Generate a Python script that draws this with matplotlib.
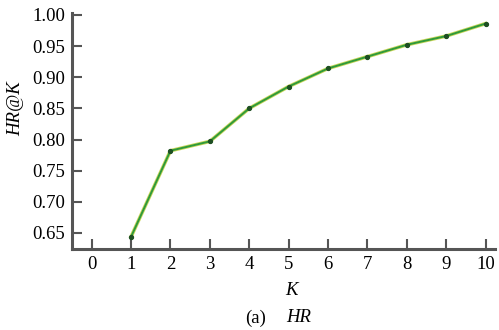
import matplotlib
matplotlib.use('Agg')
import matplotlib.pyplot as plt

k = [1, 2, 3, 4, 5, 6, 7, 8, 9, 10]
hr = [0.644, 0.782, 0.797, 0.850, 0.885, 0.914, 0.933, 0.952, 0.966, 0.986]
xticks = list(range(0, 11))
yticks = [0.65, 0.70, 0.75, 0.80, 0.85, 0.90, 0.95, 1.00]

plt.rcParams['font.family'] = ['Liberation Serif', 'DejaVu Serif']

fig = plt.figure(figsize=(4.99, 3.30), dpi=100)
ax = fig.add_axes([72 / 499, 1 - 249 / 330, 423 / 499, 236 / 330])

# yellowish halo under the green line
ax.plot(k, hr, color='#c9d65a', lw=2.6, zorder=2)
ax.plot(k, hr, color='#2f9a3a', lw=1.4, zorder=3)
ax.plot(k, hr, 'o', color='#1d4f22', ms=2.8, zorder=4)

ax.set_xlim(-0.5, 10.24)
ax.set_ylim(0.6243, 1.003)
ax.set_xticks(xticks)
ax.set_yticks(yticks)
ax.set_yticklabels(['%.2f' % v for v in yticks])

for s in ['top', 'right']:
    ax.spines[s].set_visible(False)
for s in ['left', 'bottom']:
    ax.spines[s].set_color('#555555')
    ax.spines[s].set_linewidth(2.2)

ax.tick_params(direction='in', length=7, width=1.5, color='#555555',
               labelsize=13.5, pad=5)

ax.set_xlabel('K', fontstyle='italic', fontsize=13.5)
ax.xaxis.set_label_coords((291 - 72) / 423, -(282 - 249) / 236)
ax.set_ylabel('HR@K', fontstyle='italic', fontsize=13.5)
ax.yaxis.set_label_coords(-(72 - 24) / 423, (249 - 109) / 236)

fig.text(245 / 499, 1 - 318 / 330, '(a)', fontsize=13.5, va='center', ha='left')
fig.text(286 / 499, 1 - 318 / 330, 'HR', fontsize=13.5, fontstyle='italic',
         va='center', ha='left')

fig.savefig('out.png', dpi=100)
